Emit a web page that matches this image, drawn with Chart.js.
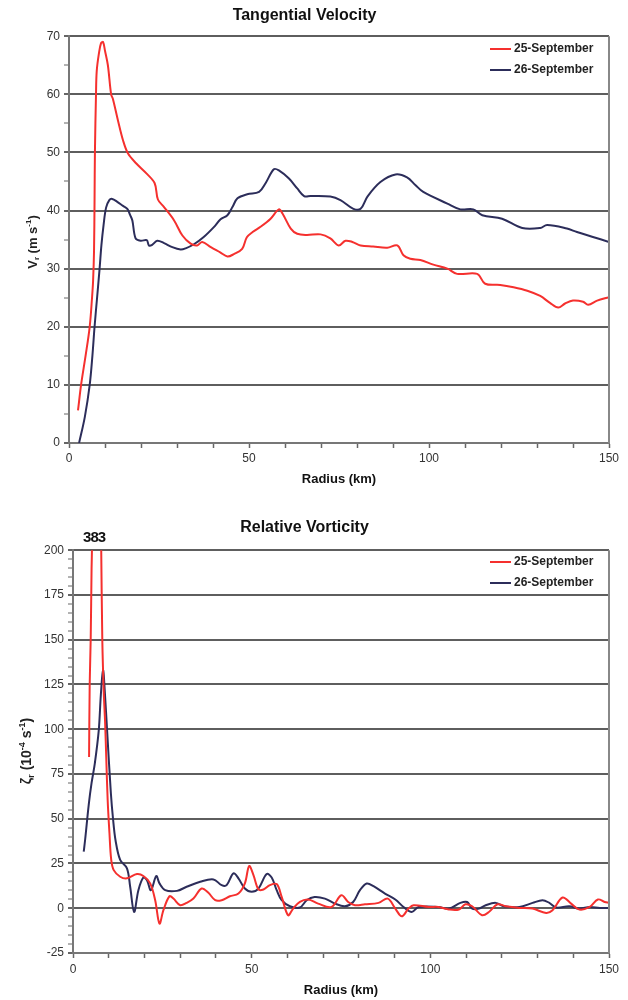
<!DOCTYPE html>
<html>
<head>
<meta charset="utf-8">
<script src="https://cdn.jsdelivr.net/npm/chart.js@4.4.1/dist/chart.umd.min.js"></script>
<style>
    html, body { margin: 0; padding: 0; background: #fff; }
    .box { position: relative; width: 628px; height: 500px; }
</style>
</head>
<body>
<div class="box"><canvas id="vt-chart"></canvas></div>
<div class="box"><canvas id="vort-chart"></canvas></div>
<script>
/* DATA - tangential velocity (m/s) */
const vtRadius25 = [2.5, 3.4, 4.6, 5.75, 6.4, 6.7, 6.95, 7.1, 7.2, 7.5, 7.7, 8.3, 8.9, 9.45, 10.0, 10.8, 11.7, 12.2, 13.6, 15.0, 16.4, 18.7, 21.5, 23.8, 24.7, 26.4, 29.2, 31.5, 33.8, 35.6, 37.0, 39.4, 42.0, 44.0, 45.8, 48.1, 49.4, 51.0, 53.2, 56.0, 58.3, 59.3, 61.6, 63.4, 66.0, 69.9, 72.6, 74.9, 76.8, 78.7, 81.0, 84.5, 88.4, 91.2, 92.9, 94.8, 97.6, 101.2, 105.1, 107.8, 113.4, 115.6, 119.8, 123.5, 127.3, 130.9, 133.6, 135.9, 137.8, 140.0, 142.8, 144.2, 146.7, 150];
const vt25 = [5.6, 10.2, 15, 20, 25, 28, 33, 42, 50, 60, 64, 67, 68.8, 69, 67.5, 65, 60, 59.2, 55.5, 52.1, 49.8, 48.1, 46.4, 44.7, 41.9, 40.6, 38.3, 35.7, 34.3, 34.0, 34.6, 33.7, 32.8, 32.1, 32.5, 33.4, 35.4, 36.3, 37.2, 38.6, 40.2, 39.5, 36.9, 36.0, 35.8, 35.9, 35.2, 34.0, 34.8, 34.6, 34.0, 33.8, 33.6, 34.0, 32.3, 31.7, 31.5, 30.7, 30.0, 29.1, 29.1, 27.4, 27.2, 26.8, 26.2, 25.3, 24.1, 23.3, 24.0, 24.5, 24.3, 23.8, 24.5, 25.1];
const vtRadius26 = [2.8, 4.4, 5.75, 6.5, 7.1, 7.8, 8.5, 9.0, 9.6, 10.3, 11.2, 12.0, 13.4, 15.0, 16.2, 17.0, 17.6, 18.5, 19.9, 21.6, 22.2, 23.1, 24.5, 26.4, 28.7, 31.0, 32.4, 34.7, 37.5, 40.3, 42.1, 44.0, 45.4, 46.8, 49.5, 52.8, 54.6, 56.9, 58.3, 61.1, 63.4, 65.3, 67.1, 72.6, 75.4, 79.0, 81.0, 82.9, 86.5, 90.7, 93.9, 96.2, 98.4, 105.1, 108.7, 112.3, 114.8, 120.3, 125.9, 130.9, 132.8, 138.3, 141.1, 145.3, 150];
const vt26 = [0, 4.5, 10, 15, 20, 25, 30, 34, 37.5, 40.5, 41.8, 42.0, 41.5, 40.8, 40.3, 39.2, 38.3, 35.2, 34.8, 34.9, 34.0, 34.1, 34.8, 34.4, 33.7, 33.3, 33.5, 34.2, 35.5, 37.2, 38.5, 39.2, 40.6, 42.1, 42.8, 43.2, 44.7, 47.1, 46.9, 45.5, 43.8, 42.5, 42.5, 42.4, 41.8, 40.3, 40.3, 42.4, 44.9, 46.2, 45.7, 44.4, 43.2, 41.2, 40.2, 40.2, 39.2, 38.6, 37.0, 37.0, 37.5, 36.9, 36.3, 35.5, 34.6];

/* DATA - relative vorticity (1e-4 /s) */
const zRadius25 = [4.5, 4.67, 4.95, 5.2, 5.3, 5.6, 6.5, 7.5, 7.9, 8.2, 8.6, 9.0, 9.3, 9.7, 10.2, 10.7, 11.4, 13.2, 15.1, 17.9, 19.7, 21.6, 23.0, 24.2, 25.3, 27.0, 28.1, 30.0, 31.8, 33.7, 36.0, 37.9, 39.8, 41.6, 43.9, 46.3, 48.1, 49.3, 50.5, 51.9, 53.3, 55.1, 57.0, 58.4, 60.2, 61.6, 63.5, 65.8, 68.6, 72.3, 75.1, 77.0, 78.9, 81.7, 85.5, 88.1, 90.2, 92.0, 93.9, 95.3, 99.5, 102.3, 105.2, 108.0, 109.8, 111.7, 114.5, 116.4, 118.8, 121.1, 124.9, 128.6, 132.4, 134.2, 137.0, 139.4, 141.7, 144.6, 146.9, 148.8, 150];
const z25 = [84.5, 125, 150, 190, 200, 260, 383, 260, 200, 150, 121, 103, 84.5, 60.5, 42, 27, 21.3, 17.6, 16.7, 19.1, 18.0, 13.9, 4.5, -8.6, -1.1, 6.7, 5.4, 1.7, 3.0, 5.4, 11.0, 8.6, 4.5, 4.5, 6.7, 8.2, 13.9, 23.6, 18.5, 10.5, 10.5, 12.9, 13.5, 6.4, -3.9, -0.2, 3.6, 4.9, 2.6, 0.7, 7.3, 3.5, 1.7, 2.2, 3.0, 5.4, -0.2, -4.5, -0.2, 1.7, 0.7, 0.7, -0.7, -0.7, 2.2, 1.1, -3.9, -2.1, 2.2, 1.1, 0.2, -0.2, -2.6, -1.1, 6.0, 2.6, -0.7, 0.7, 4.9, 3.5, 3.0];
const zRadius26 = [3.0, 3.4, 4.4, 5.2, 6.1, 7.2, 7.8, 8.4, 8.9, 9.6, 10.6, 11.2, 11.9, 13.2, 15.1, 16.0, 17.1, 18.3, 19.7, 20.7, 21.8, 23.3, 24.2, 25.8, 29.1, 31.8, 35.6, 39.3, 41.6, 43.0, 44.9, 46.3, 48.1, 50.0, 51.9, 54.2, 55.6, 57.0, 58.4, 60.7, 63.5, 65.4, 67.6, 70.5, 73.3, 76.1, 78.4, 80.3, 82.2, 84.1, 87.3, 90.2, 92.5, 94.8, 96.7, 102.3, 105.2, 108.4, 110.3, 111.7, 113.6, 115.5, 118.3, 120.6, 124.9, 128.6, 131.4, 133.3, 135.2, 138.9, 141.7, 144.6, 147.4, 150];
const z26 = [31.6, 38.4, 57.8, 70, 80.8, 99.2, 119.5, 133, 121, 97.4, 64.2, 50, 38, 27.0, 22.3, 12.0, -2.1, 10.1, 17.2, 15.7, 10.1, 18.0, 13.9, 10.1, 9.7, 12.0, 14.8, 16.1, 12.9, 12.9, 19.5, 16.7, 11.0, 9.2, 11.0, 19.1, 17.2, 10.1, 4.5, 1.1, 0.4, 4.5, 6.3, 5.4, 2.6, 1.1, 3.5, 10.1, 13.8, 12.3, 8.2, 4.9, 0.7, -2.1, 0.7, 0.7, -0.2, 3.0, 3.5, -0.2, -0.2, 1.7, 3.0, 1.1, 0.7, 3.0, 4.5, 3.0, 0.4, 1.1, -0.2, 0.7, 0.2, 0.2];

const seriesNames = ["25-September", "26-September"];
const seriesColors = ["#f5302e", "#2c2d5a"];
const xLabelTicks = [0, 50, 100, 150];

Chart.defaults.font.family = "'Liberation Sans', Arial, sans-serif";
Chart.defaults.color = "#333";

function toPoints(xs, ys) {
    return xs.map((x, i) => ({ x: x, y: ys[i] }));
}

function drawRichLabel(ctx, parts, cx, cy, size) {
    ctx.save();
    ctx.translate(cx, cy);
    ctx.rotate(-Math.PI / 2);
    let total = 0;
    for (const p of parts) {
        ctx.font = "bold " + (p.t ? Math.round(size * 0.62) : size) + "px 'Liberation Sans', Arial, sans-serif";
        p.w = ctx.measureText(p.s).width;
        total += p.w;
    }
    let x = -total / 2;
    ctx.textBaseline = "middle";
    ctx.textAlign = "left";
    ctx.fillStyle = "#222";
    for (const p of parts) {
        ctx.font = "bold " + (p.t ? Math.round(size * 0.62) : size) + "px 'Liberation Sans', Arial, sans-serif";
        let dy = 0;
        if (p.t === "sub") dy = size * 0.3;
        if (p.t === "sup") dy = -size * 0.35;
        ctx.fillText(p.s, x, dy);
        x += p.w;
    }
    ctx.restore();
}

// legend inside the plot, y label with sub/superscripts, right frame line
function extrasPlugin(cfg) {
    return {
        id: "extras",
        afterDraw(chart) {
            const ctx = chart.ctx;
            const area = chart.chartArea;
            ctx.save();
            ctx.strokeStyle = "#888";
            ctx.lineWidth = 2;
            ctx.beginPath();
            ctx.moveTo(area.right, area.top);
            ctx.lineTo(area.right, area.bottom);
            ctx.stroke();

            for (let i = 0; i < seriesNames.length; i++) {
                const y = cfg.legendY + i * 21;
                ctx.strokeStyle = seriesColors[i];
                ctx.lineWidth = 2;
                ctx.beginPath();
                ctx.moveTo(490, y);
                ctx.lineTo(511, y);
                ctx.stroke();
                ctx.fillStyle = "#222";
                ctx.font = "bold 12px 'Liberation Sans', Arial, sans-serif";
                ctx.textBaseline = "middle";
                ctx.textAlign = "left";
                ctx.fillText(seriesNames[i], 514, y);
            }

            drawRichLabel(ctx, cfg.yLabel, cfg.yLabelX, cfg.yLabelY, cfg.yLabelSize);

            if (cfg.peak) {
                const px = chart.scales.x.getPixelForValue(cfg.peak.x);
                ctx.fillStyle = "#111";
                ctx.font = "bold 15px 'Liberation Sans', Arial, sans-serif";
                ctx.letterSpacing = "-1px";
                ctx.textAlign = "center";
                ctx.textBaseline = "middle";
                ctx.fillText(cfg.peak.text, px, area.top - 12);
            }
            ctx.restore();
        }
    };
}

function makeChart(id, cfg) {
    return new Chart(document.getElementById(id), {
        type: "line",
        data: {
            datasets: [
                { label: seriesNames[0], data: cfg.red, borderColor: seriesColors[0], borderWidth: 2 },
                { label: seriesNames[1], data: cfg.navy, borderColor: seriesColors[1], borderWidth: 2 }
            ]
        },
        options: {
            responsive: true,
            maintainAspectRatio: false,
            animation: false,
            devicePixelRatio: 1,
            layout: { padding: { left: 0, right: 19, top: 0, bottom: 0 } },
            elements: {
                point: { radius: 0 },
                line: { tension: 0.35, fill: false }
            },
            plugins: {
                legend: { display: false },
                tooltip: { enabled: false },
                title: {
                    display: true,
                    text: cfg.title,
                    color: "#111",
                    font: { size: 16, weight: "bold" },
                    padding: { top: cfg.titleTop, bottom: cfg.titleBottom }
                }
            },
            scales: {
                x: {
                    type: "linear",
                    min: 0, max: 150,
                    ticks: {
                        stepSize: 10,
                        autoSkip: false,
                        maxRotation: 0,
                        padding: cfg.xTickPad,
                        font: { size: 12 },
                        callback: v => xLabelTicks.includes(v) ? v : ""
                    },
                    grid: { drawOnChartArea: false, tickLength: 5, tickColor: "#666", tickWidth: 1.5 },
                    border: { color: "#777", width: 2 },
                    title: {
                        display: true,
                        text: "Radius (km)",
                        color: "#111",
                        font: { size: 13, weight: "bold" },
                        padding: { top: 0, bottom: cfg.xTitlePad }
                    },
                    afterFit: s => { s.height = cfg.xHeight; }
                },
                y: {
                    min: cfg.yMin, max: cfg.yMax,
                    ticks: {
                        stepSize: cfg.minorStep,
                        autoSkip: false,
                        padding: 4,
                        font: { size: 12 },
                        callback: v => v % cfg.majorStep === 0 ? v : ""
                    },
                    grid: {
                        color: c => (c.tick && c.tick.value % cfg.majorStep === 0) ? "#5e5e5e" : "rgba(0,0,0,0)",
                        lineWidth: 2,
                        tickColor: "#666",
                        tickLength: 5,
                        tickWidth: c => (c.tick && c.tick.value % cfg.majorStep === 0) ? 2 : 1
                    },
                    border: { color: "#777", width: 2 },
                    afterFit: s => { s.width = cfg.yWidth; }
                }
            }
        },
        plugins: [extrasPlugin(cfg)]
    });
}

makeChart("vt-chart", {
    title: "Tangential Velocity",
    red: toPoints(vtRadius25, vt25),
    navy: toPoints(vtRadius26, vt26),
    titleTop: 6, titleBottom: 11,
    xHeight: 57, xTickPad: 3, xTitlePad: 13,
    yMin: 0, yMax: 70, minorStep: 5, majorStep: 10, yWidth: 69,
    legendY: 49,
    yLabel: [{ s: "V" }, { s: "r", t: "sub" }, { s: " (m s" }, { s: "-1", t: "sup" }, { s: ")" }],
    yLabelX: 33, yLabelY: 242, yLabelSize: 13
});

makeChart("vort-chart", {
    title: "Relative Vorticity",
    red: toPoints(zRadius25, z25),
    navy: toPoints(zRadius26, z26),
    titleTop: 18, titleBottom: 13,
    xHeight: 47, xTickPad: 4, xTitlePad: 2,
    yMin: -25, yMax: 200, minorStep: 5, majorStep: 25, yWidth: 73,
    legendY: 62,
    yLabel: [{ s: "\u03b6" }, { s: "r", t: "sub" }, { s: " (10" }, { s: "-4", t: "sup" }, { s: " s" }, { s: "-1", t: "sup" }, { s: ")" }],
    yLabelX: 27, yLabelY: 251, yLabelSize: 14,
    peak: { x: 5.9, text: "383" }
});
</script>
</body>
</html>
